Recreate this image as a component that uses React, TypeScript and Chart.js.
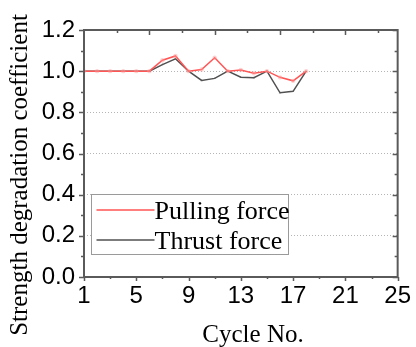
import React, { useEffect, useRef } from "react";
import { Chart, registerables } from "chart.js";

Chart.register(...registerables);

// Cycle numbers and strength degradation coefficients
const cycles = [1, 2, 3, 4, 5, 6, 7, 8, 9, 10, 11, 12, 13, 14, 15, 16, 17, 18];
const pulling = [1.0, 1.0, 1.0, 1.0, 1.0, 1.0, 1.053, 1.074, 1.0, 1.008, 1.065, 1.0, 1.006, 0.99, 1.0, 0.97, 0.953, 1.0];
const thrust = [1.0, 1.0, 1.0, 1.0, 1.0, 1.0, 1.032, 1.06, 1.0, 0.955, 0.965, 1.0, 0.971, 0.968, 1.0, 0.895, 0.902, 1.0];

const xTicks = [1, 5, 9, 13, 17, 21, 25];
const yTicks = [0, 0.2, 0.4, 0.6, 0.8, 1.0, 1.2];

const seriesNames = ["Pulling force", "Thrust force"];
const xTitle = "Cycle No.";
const yTitle = "Strength degradation coefficient";

const RED = "rgb(255,85,85)";
const GRAY = "#505050";
const FRAME = "#5a5a5a";
const SERIF = "'Liberation Serif', 'Times New Roman', serif";
const SANS = "'Liberation Sans', Arial, sans-serif";

// Box frame, tick marks (major + minor), titles and the inset legend
const decorations = {
  id: "decorations",
  afterDatasetsDraw(chart: any) {
    const { ctx, chartArea: a, scales } = chart;
    const x = scales.x;
    const y = scales.y;
    ctx.save();
    ctx.strokeStyle = FRAME;
    ctx.lineWidth = 1.5;
    ctx.beginPath();
    // left / right ticks every 0.1
    for (let i = 0; i <= 12; i++) {
      const py = Math.round(y.getPixelForValue(i / 10)) + 0.5;
      const len = i % 2 === 0 ? 5 : 3;
      ctx.moveTo(a.left, py);
      ctx.lineTo(a.left - len, py);
      ctx.moveTo(a.right, py);
      ctx.lineTo(a.right - len, py);
    }
    // bottom ticks every 2 cycles
    for (let v = 1; v <= 25; v += 2) {
      const px = Math.round(x.getPixelForValue(v)) + 0.5;
      const len = (v - 1) % 4 === 0 ? 4 : 2;
      ctx.moveTo(px, a.bottom);
      ctx.lineTo(px, a.bottom + len);
    }
    // top ticks every 2.5 cycles
    for (let k = 1; k < 10; k++) {
      const px = Math.round(x.getPixelForValue(1 + 2.5 * k)) + 0.5;
      const len = k % 2 === 0 ? 5 : 3;
      ctx.moveTo(px, a.top);
      ctx.lineTo(px, a.top + len);
    }
    ctx.stroke();
    ctx.lineWidth = 2;
    ctx.strokeRect(a.left, a.top, a.right - a.left, a.bottom - a.top);
    ctx.restore();
  },
  afterDraw(chart: any) {
    const { ctx, chartArea: a } = chart;
    ctx.save();
    ctx.fillStyle = "#000";
    ctx.font = `25px ${SERIF}`;
    // x title
    ctx.textAlign = "center";
    ctx.textBaseline = "alphabetic";
    ctx.fillText(xTitle, 253, 342);
    // y title
    ctx.save();
    ctx.translate(27, 175);
    ctx.rotate(-Math.PI / 2);
    ctx.fillText(yTitle, 0, 0);
    ctx.restore();

    // legend
    const bx = a.left + 7.5;
    const by = 194.5;
    ctx.fillStyle = "#fff";
    ctx.fillRect(bx, by, 197, 60);
    ctx.strokeStyle = "#9a9a9a";
    ctx.lineWidth = 1;
    ctx.strokeRect(bx, by, 197, 60);
    const rows = [
      { name: seriesNames[0], color: RED, y: 210 },
      { name: seriesNames[1], color: GRAY, y: 240 },
    ];
    ctx.textAlign = "left";
    ctx.font = `26px ${SERIF}`;
    rows.forEach((r) => {
      ctx.strokeStyle = r.color;
      ctx.lineWidth = 1.5;
      ctx.beginPath();
      ctx.moveTo(bx + 5, r.y);
      ctx.lineTo(bx + 63, r.y);
      ctx.stroke();
      ctx.fillStyle = "#000";
      ctx.fillText(r.name, bx + 63, r.y + 8.5);
    });
    ctx.restore();
  },
};

export default function App() {
  const ref = useRef<HTMLCanvasElement | null>(null);

  useEffect(() => {
    if (!ref.current) return;
    const chart = new Chart(ref.current, {
      type: "line",
      data: {
        labels: cycles,
        datasets: [
          {
            label: seriesNames[0],
            data: cycles.map((c, i) => ({ x: c, y: pulling[i] })),
            borderColor: RED,
            backgroundColor: "rgba(255,150,150,0.45)",
            borderWidth: 1.5,
            pointRadius: 2.2,
            pointBorderWidth: 0,
            pointStyle: "circle",
            tension: 0,
          },
          {
            label: seriesNames[1],
            data: cycles.map((c, i) => ({ x: c, y: thrust[i] })),
            borderColor: GRAY,
            backgroundColor: "rgba(90,90,90,0.4)",
            borderWidth: 1.5,
            pointRadius: 1.5,
            pointBorderWidth: 0,
            pointStyle: "triangle",
            tension: 0,
          },
        ],
      },
      options: {
        responsive: false,
        animation: false,
        devicePixelRatio: 1,
        layout: { padding: { left: 0, top: 30, right: 14, bottom: 0 } },
        plugins: { legend: { display: false }, tooltip: { enabled: false } },
        scales: {
          x: {
            type: "linear",
            min: 1,
            max: 25,
            afterBuildTicks: (s: any) => {
              s.ticks = xTicks.map((v) => ({ value: v }));
            },
            afterFit: (s: any) => {
              s.height = 70;
            },
            grid: { display: false, drawTicks: false },
            border: { display: false },
            ticks: {
              color: "#000",
              font: { family: SANS, size: 24 },
              padding: 5,
              maxRotation: 0,
              autoSkip: false,
              callback: (v: any) => String(v),
            },
          },
          y: {
            type: "linear",
            min: 0,
            max: 1.2,
            afterBuildTicks: (s: any) => {
              s.ticks = yTicks.map((v) => ({ value: v }));
            },
            afterFit: (s: any) => {
              s.width = 84;
            },
            grid: { display: true, drawTicks: false, color: "#b5b5b5", lineWidth: 1 },
            border: { display: false, dash: [1, 2] },
            ticks: {
              color: "#000",
              font: { family: SANS, size: 24 },
              padding: 9,
              autoSkip: false,
              callback: (v: any) => Number(v).toFixed(1),
            },
          },
        },
      },
      plugins: [decorations],
    });
    return () => chart.destroy();
  }, []);

  return (
    <div style={{ position: "fixed", left: 0, top: 0, width: 416, height: 347, background: "#fff" }}>
      <canvas ref={ref} width={416} height={347} style={{ display: "block" }} />
    </div>
  );
}
